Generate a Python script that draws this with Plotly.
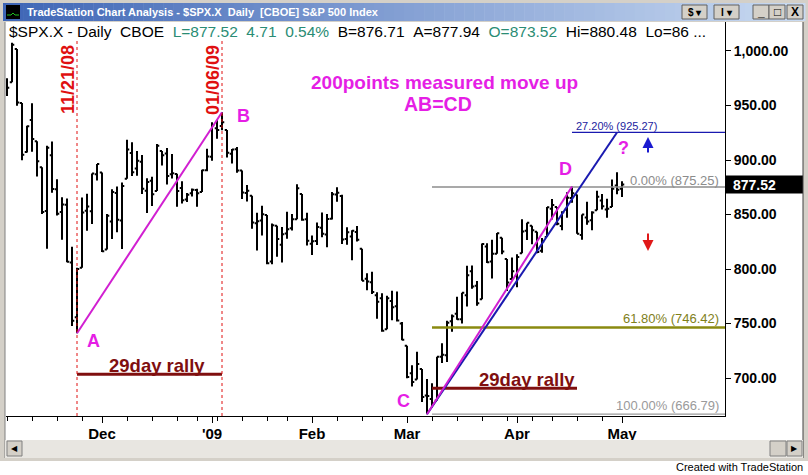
import datetime as dt
import plotly.graph_objects as go

# ---------------- data ----------------
dates = [
    "2008-11-03", "2008-11-04", "2008-11-05", "2008-11-06", "2008-11-07", "2008-11-10", "2008-11-11",
    "2008-11-12", "2008-11-13", "2008-11-14", "2008-11-17", "2008-11-18", "2008-11-19", "2008-11-20",
    "2008-11-21", "2008-11-24", "2008-11-25", "2008-11-26", "2008-11-28",
    "2008-12-01", "2008-12-02", "2008-12-03", "2008-12-04", "2008-12-05", "2008-12-08", "2008-12-09",
    "2008-12-10", "2008-12-11", "2008-12-12", "2008-12-15", "2008-12-16", "2008-12-17", "2008-12-18",
    "2008-12-19", "2008-12-22", "2008-12-23", "2008-12-24", "2008-12-26", "2008-12-29", "2008-12-30",
    "2008-12-31",
    "2009-01-02", "2009-01-05", "2009-01-06", "2009-01-07", "2009-01-08", "2009-01-09", "2009-01-12",
    "2009-01-13", "2009-01-14", "2009-01-15", "2009-01-16", "2009-01-20", "2009-01-21", "2009-01-22",
    "2009-01-23", "2009-01-26", "2009-01-27", "2009-01-28", "2009-01-29", "2009-01-30",
    "2009-02-02", "2009-02-03", "2009-02-04", "2009-02-05", "2009-02-06", "2009-02-09", "2009-02-10",
    "2009-02-11", "2009-02-12", "2009-02-13", "2009-02-17", "2009-02-18", "2009-02-19", "2009-02-20",
    "2009-02-23", "2009-02-24", "2009-02-25", "2009-02-26", "2009-02-27",
    "2009-03-02", "2009-03-03", "2009-03-04", "2009-03-05", "2009-03-06", "2009-03-09", "2009-03-10",
    "2009-03-11", "2009-03-12", "2009-03-13", "2009-03-16", "2009-03-17", "2009-03-18", "2009-03-19",
    "2009-03-20", "2009-03-23", "2009-03-24", "2009-03-25", "2009-03-26", "2009-03-27", "2009-03-30",
    "2009-03-31",
    "2009-04-01", "2009-04-02", "2009-04-03", "2009-04-06", "2009-04-07", "2009-04-08", "2009-04-09",
    "2009-04-13", "2009-04-14", "2009-04-15", "2009-04-16", "2009-04-17", "2009-04-20", "2009-04-21",
    "2009-04-22", "2009-04-23", "2009-04-24", "2009-04-27", "2009-04-28", "2009-04-29", "2009-04-30",
    "2009-05-01",
]
opens = [
    968.67, 971.31, 1001.84, 952.40, 907.44, 936.75, 917.15, 893.39, 853.13, 904.36, 873.23, 852.34, 859.03, 805.87,
    755.84, 801.20, 853.40, 852.90, 886.89,
    888.61, 817.94, 843.60, 869.75, 844.43, 882.71, 906.48, 892.17, 898.35, 871.79, 881.07, 871.53, 908.16, 905.98,
    886.96, 887.20, 874.31, 863.87, 869.51, 872.37, 870.58, 890.59,
    902.99, 929.17, 931.17, 927.45, 905.73, 909.91, 890.40, 869.79, 867.28, 841.99, 844.45, 849.64, 806.77, 839.74,
    822.16, 832.50, 837.30, 845.73, 868.89, 845.69,
    823.09, 825.69, 837.77, 831.75, 846.09, 868.24, 866.87, 827.41, 829.91, 833.95, 818.61, 791.06, 787.91, 775.87,
    773.25, 744.69, 770.64, 765.76, 749.93,
    729.57, 704.44, 698.60, 708.27, 684.04, 680.76, 679.28, 719.59, 720.89, 751.97, 758.84, 753.88, 776.01, 797.92,
    784.58, 772.31, 820.60, 806.81, 814.06, 828.68, 809.07, 790.88,
    793.59, 814.53, 835.13, 839.75, 834.12, 816.76, 829.29, 855.33, 856.88, 839.44, 854.54, 865.18, 868.27, 831.25,
    847.26, 844.62, 853.91, 862.82, 854.48, 856.85, 876.59,
    873.52,
]
highs = [
    975.10, 1007.51, 1001.84, 952.40, 931.46, 951.95, 917.15, 893.39, 913.01, 916.88, 882.29, 865.90, 864.57, 820.52,
    801.20, 865.60, 868.94, 887.68, 896.25,
    888.61, 850.54, 873.12, 875.60, 879.42, 918.57, 916.26, 908.27, 904.63, 883.24, 884.63, 914.66, 908.16, 911.02,
    905.47, 887.37, 880.44, 869.79, 873.74, 873.70, 891.12, 910.32,
    934.73, 936.63, 943.85, 927.45, 910.00, 911.93, 890.40, 877.02, 867.28, 851.59, 858.13, 849.64, 841.72, 839.74,
    838.61, 852.53, 850.45, 877.86, 868.89, 851.66,
    830.78, 842.60, 851.85, 850.55, 870.75, 875.01, 868.05, 838.22, 835.48, 839.43, 818.61, 796.17, 797.58, 778.69,
    777.85, 775.49, 780.12, 779.42, 751.27,
    729.57, 711.67, 724.12, 708.27, 699.09, 695.27, 719.60, 731.92, 752.63, 758.29, 774.53, 778.12, 803.04, 803.24,
    788.91, 823.37, 823.65, 826.78, 832.98, 828.68, 809.07, 810.48,
    813.62, 845.61, 842.50, 839.75, 834.12, 828.42, 856.91, 864.31, 856.88, 852.93, 870.35, 875.63, 868.27, 850.09,
    861.78, 852.87, 871.80, 868.83, 864.48, 882.06, 888.70,
    880.48,
]
lows = [
    958.82, 971.31, 949.86, 899.73, 906.90, 907.47, 884.90, 850.48, 818.69, 869.88, 848.98, 826.84, 806.18, 747.78,
    741.02, 801.20, 834.99, 841.37, 881.21,
    815.69, 817.94, 827.60, 833.60, 818.41, 882.71, 885.38, 885.45, 868.73, 851.35, 857.72, 871.53, 895.04, 877.44,
    883.02, 857.09, 860.10, 861.44, 866.52, 857.07, 870.58, 889.67,
    899.35, 919.53, 927.28, 902.37, 896.81, 888.31, 864.32, 862.02, 836.93, 817.04, 830.66, 804.47, 804.30, 811.29,
    806.07, 827.69, 835.40, 845.73, 844.15, 821.67,
    812.87, 821.98, 829.18, 819.91, 845.42, 861.65, 822.99, 822.30, 808.06, 825.21, 789.17, 780.43, 777.03, 754.25,
    742.37, 744.69, 752.89, 751.75, 734.52,
    699.70, 692.30, 698.60, 677.93, 666.79, 672.88, 679.28, 713.85, 714.76, 742.46, 753.37, 749.93, 765.64, 781.82,
    766.20, 772.31, 805.48, 791.37, 814.06, 813.43, 779.81, 790.88,
    783.32, 814.53, 826.70, 822.79, 814.53, 814.84, 829.29, 845.35, 840.25, 835.58, 847.04, 860.87, 832.39, 826.83,
    840.57, 835.45, 853.91, 854.65, 847.12, 856.85, 868.51,
    866.10,
]
closes = [
    966.30, 1005.75, 952.77, 904.88, 930.99, 919.21, 898.95, 852.30, 911.29, 873.29, 850.75, 859.12, 806.58, 752.44,
    800.03, 851.81, 857.39, 887.68, 896.24,
    816.21, 848.81, 870.74, 845.22, 876.07, 909.70, 888.67, 899.24, 873.59, 879.73, 868.57, 913.18, 904.42, 885.28,
    887.88, 871.63, 863.16, 868.15, 872.80, 869.42, 890.64, 903.25,
    931.80, 927.45, 934.70, 906.65, 909.73, 890.35, 870.26, 871.79, 842.62, 843.74, 850.12, 805.22, 840.24, 827.50,
    831.95, 836.57, 845.71, 874.09, 845.14, 825.88,
    825.44, 838.51, 832.23, 845.85, 868.60, 869.89, 827.16, 833.74, 835.19, 826.84, 789.17, 788.42, 778.94, 770.05,
    743.33, 773.14, 764.90, 752.83, 735.09,
    700.82, 696.33, 712.87, 682.55, 683.38, 676.53, 719.60, 721.36, 750.74, 756.55, 753.89, 778.12, 794.35, 784.04,
    768.54, 822.92, 806.12, 813.88, 832.86, 815.94, 787.53, 797.87,
    811.08, 834.38, 842.50, 835.48, 815.55, 825.16, 856.56, 858.73, 841.50, 852.06, 865.30, 869.60, 832.39, 850.08,
    843.55, 851.92, 866.23, 857.51, 855.16, 873.64, 872.81,
    877.52,
]

month_labels = {"2008-12": "Dec", "2009-01": "'09", "2009-02": "Feb", "2009-03": "Mar", "2009-04": "Apr", "2009-05": "May"}
y_ticks = [700, 750, 800, 850, 900, 950, 1000]
last_price = 877.52

# pattern points
point_A = ("2008-11-21", 741.02)
point_B = ("2009-01-06", 943.85)
point_C = ("2009-03-06", 666.79)
point_D = ("2009-04-17", 875.63)
proj_end = ("2009-04-30", 925.27)
fib_values = [925.27, 875.25, 746.42, 666.79]
fib_labels = ["27.20% (925.27)", "0.00% (875.25)", "61.80% (746.42)", "100.00% (666.79)"]
fib_start = ["2009-04-17", "2009-03-09", "2009-03-09", "2009-03-09"]
rally_spans = [("2008-11-21", "2009-01-06"), ("2009-03-09", "2009-04-20")]
rally_levels = [703.5, 690.5]
vline_dates = ["2008-11-21", "2009-01-06"]
vline_texts = ["11/21/08", "01/06/09"]

# ---------------- geometry helpers ----------------
W, H = 808, 475
PL, PR, PT, PB = 6, 725, 22, 416
X_RANGE = [-0.2, 143.6]
Y_RANGE = [665.14, 1026.6]


def px(x):
    return (x - PL) / (PR - PL)


def py(y):
    return (PB - y) / (PB - PT)


def di(d):
    return dates.index(d)


idx = list(range(len(dates)))
parsed = [dt.date.fromisoformat(d) for d in dates]

month_vals, month_text = [], []
for i, d in enumerate(dates):
    key = d[:7]
    if key in month_labels and (i == 0 or dates[i - 1][:7] != key):
        month_vals.append(i)
        month_text.append(month_labels[key])
week_vals = [i for i in idx if i == 0 or parsed[i].isocalendar()[1] != parsed[i - 1].isocalendar()[1]]

MAG = "#e51ee5"
MAGL = "#d11fd1"
MAROON = "#7f0f0f"
NAVY = "#1a1ab0"

fig = go.Figure()
fig.add_trace(go.Ohlc(
    x=idx, open=opens, high=highs, low=lows, close=closes,
    increasing=dict(line=dict(color="black", width=2)),
    decreasing=dict(line=dict(color="black", width=2)),
    tickwidth=0.45, hoverinfo="skip", showlegend=False,
))

# fib lines
fib_colors = [NAVY, "#8c8c8c", "#8a8a10", "#9a9a9a"]
fib_widths = [1.3, 1.3, 2.5, 1.3]
for v, s, c, w in zip(fib_values, fib_start, fib_colors, fib_widths):
    fig.add_trace(go.Scatter(x=[di(s), X_RANGE[1]], y=[v, v], mode="lines",
                             line=dict(color=c, width=w), hoverinfo="skip", showlegend=False))

# rally lines
for (s, e), lv in zip(rally_spans, rally_levels):
    fig.add_trace(go.Scatter(x=[di(s), di(e)], y=[lv, lv], mode="lines",
                             line=dict(color=MAROON, width=3), hoverinfo="skip", showlegend=False))

# trend lines
fig.add_trace(go.Scatter(x=[di(point_C[0]), di(proj_end[0])], y=[point_C[1], proj_end[1]], mode="lines",
                         line=dict(color=NAVY, width=2), hoverinfo="skip", showlegend=False))
for p0, p1 in [(point_A, point_B), (point_C, point_D)]:
    fig.add_trace(go.Scatter(x=[di(p0[0]), di(p1[0])], y=[p0[1], p1[1]], mode="lines",
                             line=dict(color=MAGL, width=2), hoverinfo="skip", showlegend=False))

shapes = []
for d in vline_dates:
    shapes.append(dict(type="line", xref="x", yref="paper", x0=di(d), x1=di(d), y0=0, y1=py(40),
                       line=dict(color="#e01010", width=1, dash="dot")))

annotations = []


def txt(x, y, text, size, color, bold=False, xanchor="center", yanchor="middle", family="Arial", angle=0, **kw):
    annotations.append(dict(x=px(x), y=py(y), xref="paper", yref="paper", text=text, showarrow=False,
                            xanchor=xanchor, yanchor=yanchor, textangle=angle,
                            font=dict(size=size, color=color, family=family, weight="bold" if bold else "normal"),
                            **kw))


# rotated date labels
txt(68, 80, vline_texts[0], 18, "#e01010", bold=True, angle=-90)
txt(213, 80, vline_texts[1], 18, "#e01010", bold=True, angle=-90)

# letters
txt(93, 341, "A", 18, MAG, bold=True)
txt(244, 116, "B", 18, MAG, bold=True)
txt(403, 401, "C", 18, MAG, bold=True)
txt(565, 169, "D", 18, MAG, bold=True)
txt(623, 148, "?", 18, MAG, bold=True)
txt(444, 83, "200points measured move up", 19, MAG, bold=True)
txt(438, 104, "AB=CD", 19.5, MAG, bold=True)

txt(157, 365, "29day rally", 18.5, MAROON, bold=True)
txt(527, 379, "29day rally", 18.5, MAROON, bold=True)

# arrows
annotations.append(dict(x=px(648), y=py(137), xref="paper", yref="paper", ax=0, ay=17,
                        text="", showarrow=True, arrowhead=2, arrowsize=1.1,
                        arrowwidth=2, arrowcolor="#1a1ad0"))
annotations.append(dict(x=px(648), y=py(251), xref="paper", yref="paper", ax=0, ay=-19,
                        text="", showarrow=True, arrowhead=2, arrowsize=1.1,
                        arrowwidth=2, arrowcolor="#e01818"))

# fib labels
txt(574, 126, fib_labels[0], 11, "#2323a0", xanchor="left")
txt(721, 180, fib_labels[1], 13, "#8c8c8c", xanchor="right")
txt(721, 318, fib_labels[2], 13, "#80801a", xanchor="right")
txt(721, 405, fib_labels[3], 13, "#9a9a9a", xanchor="right")

# header line
NB = "\u00a0"
teal = "#2a8c74"
header = (f"$SPX.X{NB}-{NB}Daily{NB}{NB}CBOE{NB}{NB}"
          f"<span style='color:{teal}'>L=877.52{NB}{NB}4.71{NB}{NB}0.54%</span>{NB}{NB}"
          f"B=876.71{NB}{NB}A=877.94{NB}{NB}<span style='color:{teal}'>O=873.52</span>{NB}{NB}"
          f"Hi=880.48{NB}{NB}Lo=86{NB}...")
txt(7, 32, header, 15.5, "black", xanchor="left")

# last price marker
shapes.append(dict(type="rect", xref="paper", yref="y", x0=px(725), x1=px(803),
                   y0=last_price - 8.2, y1=last_price + 8.2, fillcolor="black", line=dict(width=0), layer="above"))
annotations.append(dict(x=px(731), y=last_price, xref="paper", yref="y", text=f"{last_price:.2f}",
                        showarrow=False, xanchor="left", yanchor="middle",
                        font=dict(size=14, color="white", family="Arial", weight="bold")))

# ---------------- window chrome ----------------
GRAY = "#d4d0c8"
shapes.append(dict(type="rect", xref="paper", yref="paper", x0=px(0), x1=px(5), y0=py(461), y1=py(0),
                   fillcolor=GRAY, line=dict(width=0)))
shapes.append(dict(type="rect", xref="paper", yref="paper", x0=px(803), x1=px(808), y0=py(461), y1=py(0),
                   fillcolor=GRAY, line=dict(width=0)))
shapes.append(dict(type="line", xref="paper", yref="paper", x0=px(5), x1=px(5), y0=py(458), y1=py(22),
                   line=dict(color="#808080", width=1)))
shapes.append(dict(type="line", xref="paper", yref="paper", x0=px(803), x1=px(803), y0=py(458), y1=py(22),
                   line=dict(color="#404040", width=1)))
c0 = (0x3f, 0x66, 0xb6)
c1 = (0xc9, 0xda, 0xf1)
n = 80
for k in range(n):
    t = k / (n - 1)
    col = "rgb({},{},{})".format(*[round(a + (b - a) * t) for a, b in zip(c0, c1)])
    shapes.append(dict(type="rect", xref="paper", yref="paper", x0=px(3 + k * 802 / n), x1=px(3 + (k + 1) * 802 / n + 0.5),
                       y0=py(21), y1=py(3), fillcolor=col, line=dict(width=0)))
shapes.append(dict(type="rect", xref="paper", yref="paper", x0=px(0), x1=px(808), y0=py(3), y1=py(0),
                   fillcolor=GRAY, line=dict(width=0)))
shapes.append(dict(type="rect", xref="paper", yref="paper", x0=px(0), x1=px(808), y0=py(22), y1=py(21),
                   fillcolor=GRAY, line=dict(width=0)))
shapes.append(dict(type="rect", xref="paper", yref="paper", x0=px(6), x1=px(20), y0=py(19), y1=py(5),
                   fillcolor="black", line=dict(width=0)))
shapes.append(dict(type="path", xref="paper", yref="paper",
                   path=f"M {px(7)},{py(15)} L {px(11)},{py(15)} L {px(13)},{py(13)} L {px(15)},{py(15)} L {px(19)},{py(15)}",
                   line=dict(color="#20c020", width=1)))
txt(25, 12, "TradeStation Chart Analysis - $SPX.X  Daily  [CBOE] S&amp;P 500 Index", 11, "white", bold=True,
    xanchor="left", family="Arial")
for (x0, x1, label) in [(682, 707, "$ ▾"), (714, 739, "I ▾"), (753, 769, "_"), (769, 785, "□"), (787, 803, "X")]:
    shapes.append(dict(type="rect", xref="paper", yref="paper", x0=px(x0), x1=px(x1), y0=py(19), y1=py(5),
                       fillcolor=GRAY, line=dict(color="#606060", width=1)))
    txt((x0 + x1) / 2, 12, label, 10 if len(label) > 1 else 12, "black", bold=True)
shapes.append(dict(type="rect", xref="paper", yref="paper", x0=px(5), x1=px(803), y0=py(458), y1=py(440),
                   fillcolor="#e8e6e1", line=dict(width=0)))
for (x0, x1) in [(7, 22), (770, 786), (787, 802)]:
    shapes.append(dict(type="rect", xref="paper", yref="paper", x0=px(x0), x1=px(x1), y0=py(456), y1=py(441),
                       fillcolor=GRAY, line=dict(color="#808080", width=1)))
txt(14.5, 448.5, "◀", 8, "black")
txt(794.5, 448.5, "▶", 8, "black")
shapes.append(dict(type="rect", xref="paper", yref="paper", x0=px(0), x1=px(808), y0=py(461), y1=py(458),
                   fillcolor=GRAY, line=dict(width=0)))
txt(805, 467, "Created with TradeStation", 11, "black", xanchor="right", family="Arial")

fig.update_layout(
    width=W, height=H,
    margin=dict(l=PL, r=W - PR, t=PT, b=H - PB),
    paper_bgcolor="white", plot_bgcolor="white",
    showlegend=False,
    shapes=shapes, annotations=annotations,
    xaxis=dict(
        range=X_RANGE, rangeslider=dict(visible=False), showgrid=False, zeroline=False,
        showline=True, linecolor="black", linewidth=1,
        tickmode="array", tickvals=month_vals, ticktext=month_text,
        ticks="outside", ticklen=6, tickcolor="black", tickwidth=1, ticklabelstandoff=-2,
        tickfont=dict(family="Arial", size=15, color="black", weight="bold"),
        minor=dict(tickmode="array", tickvals=week_vals, ticks="outside", ticklen=4, tickcolor="black"),
        fixedrange=True,
    ),
    yaxis=dict(
        range=Y_RANGE, side="right", showgrid=False, zeroline=False,
        showline=True, linecolor="black", linewidth=1,
        tickmode="array", tickvals=y_ticks, tickformat=",.2f",
        ticks="outside", ticklen=5, tickcolor="black",
        tickfont=dict(family="Arial", size=14, color="black", weight="bold"),
        fixedrange=True,
    ),
)

fig.write_html("out.html", config={"displayModeBar": False},
               post_script="document.body.style.margin='0';document.body.style.overflow='hidden';")
